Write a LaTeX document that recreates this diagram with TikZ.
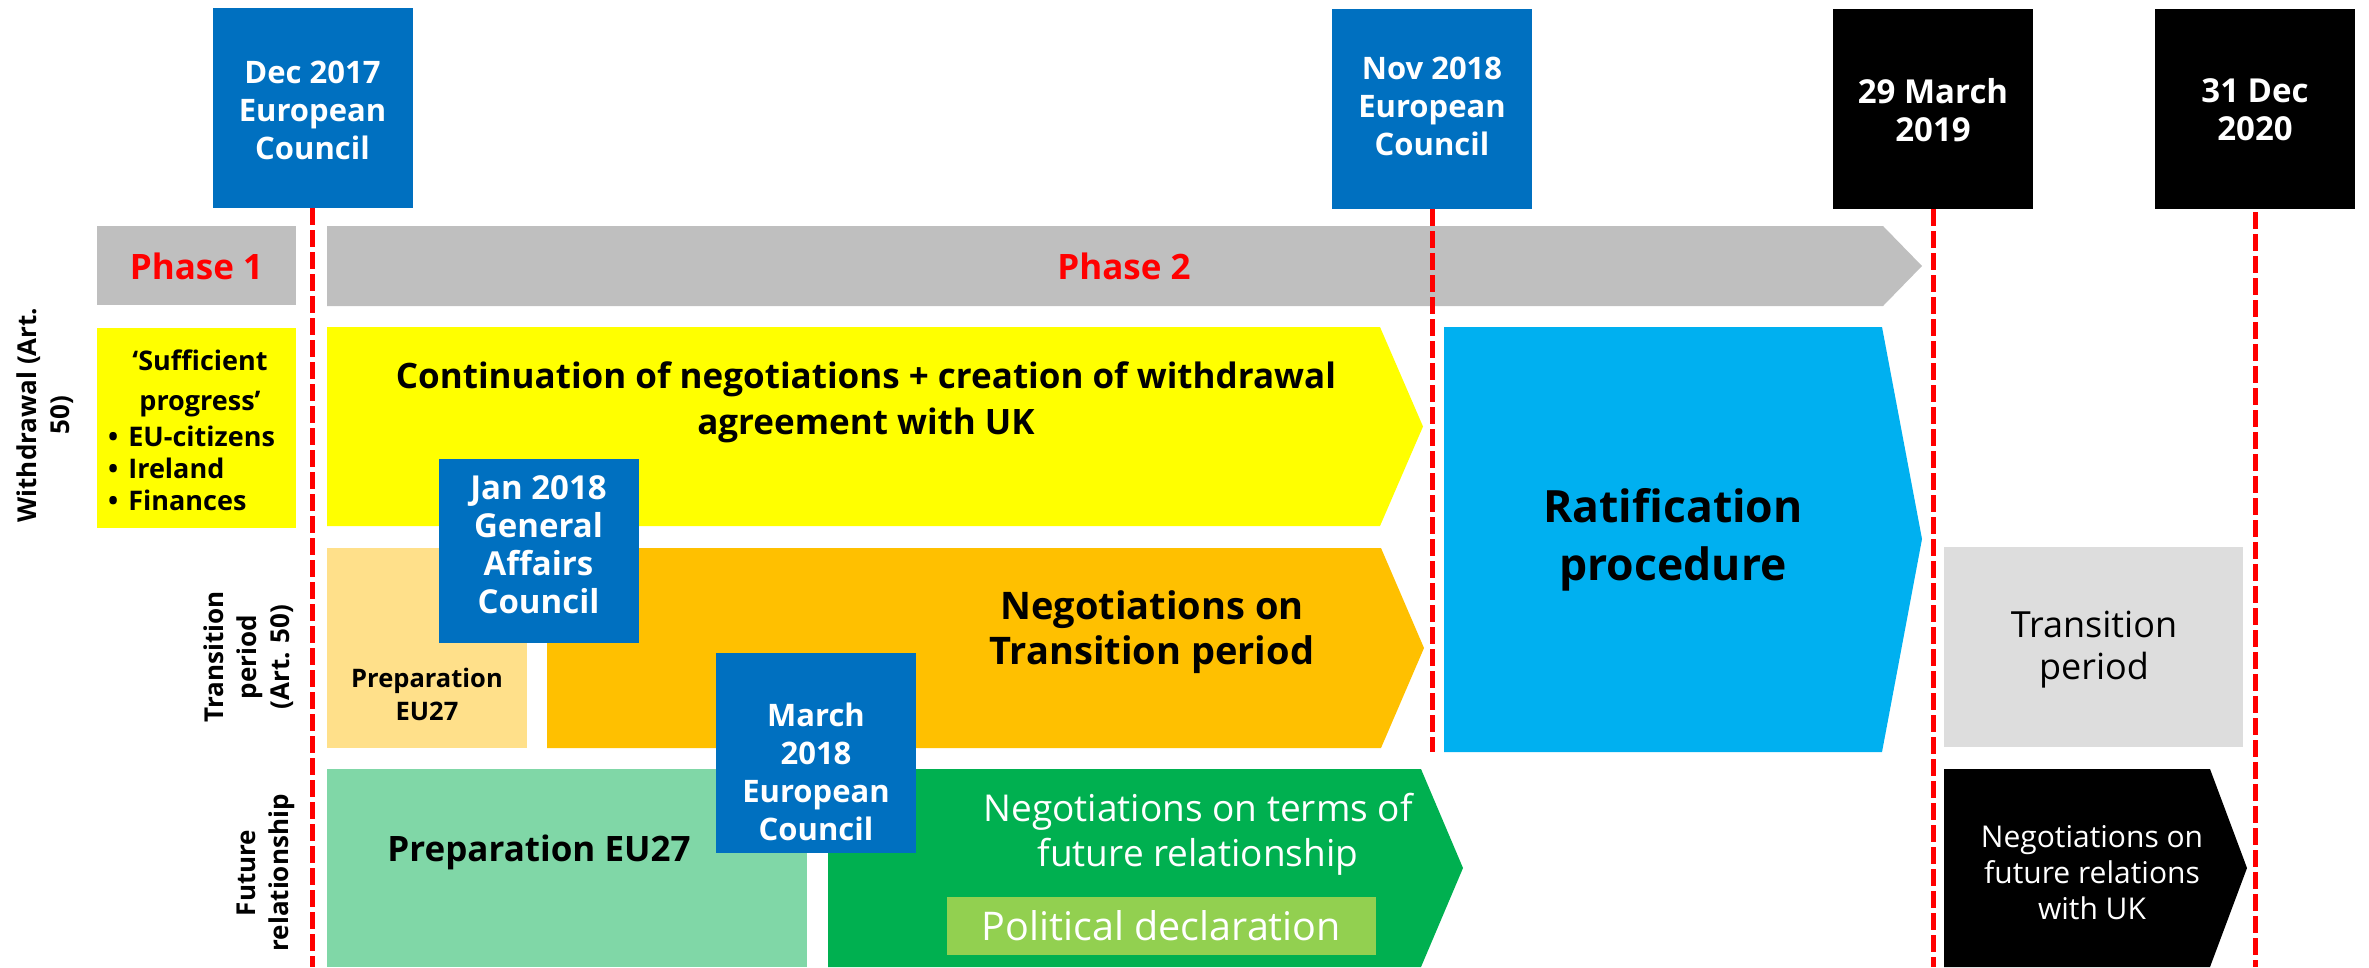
\documentclass[tikz,border=0pt]{standalone}
\usepackage{fontspec}
\setmainfont{Open Sans}

\definecolor{euBlue}{HTML}{0070C0}
\definecolor{phaseGrey}{HTML}{BFBFBF}
\definecolor{lineRed}{HTML}{FF0000}
\definecolor{wdYellow}{HTML}{FFFF00}
\definecolor{paleOrange}{HTML}{FFE08A}
\definecolor{trOrange}{HTML}{FFC000}
\definecolor{paleGreen}{HTML}{80D7A7}
\definecolor{frGreen}{HTML}{00B050}
\definecolor{declGreen}{HTML}{92D050}
\definecolor{ratCyan}{HTML}{00B0F0}
\definecolor{trGrey}{HTML}{DDDDDD}

\tikzset{
    datebox/.style={minimum width=200pt, minimum height=200pt, inner sep=0pt},
    datetext/.style={text=white, align=center, inner sep=0pt, font=\bfseries\fontsize{31}{38}\selectfont},
    cutline/.style={lineRed, line width=5pt, dash pattern=on 17pt off 5pt},
    rowlabel/.style={rotate=90, align=center, font=\bfseries\fontsize{26}{33}\selectfont},
    label/.style={align=center, inner sep=0pt}
}

\begin{document}
\begin{tikzpicture}[x=1pt,y=-1pt]
    \useasboundingbox (0,0) rectangle (2369,967);
    \coordinate (bottom) at (0,967);

    % phases
    \fill[phaseGrey] (97,226) rectangle (296,305);
    \fill[phaseGrey] (327,226) -- (1883,226) -- (1922,266) -- (1883,306) -- (327,306) -- cycle;
    \node[label, text=lineRed, font=\bfseries\fontsize{35}{42}\selectfont] (phase1) at (196.5,266) {Phase 1};
    \node[label, text=lineRed, font=\bfseries\fontsize{35}{42}\selectfont] (phase2) at (1124,266) {Phase 2};

    % withdrawal row
    \fill[wdYellow] (97,328) rectangle (296,528);
    \fill[wdYellow] (327,327) -- (1380,327) -- (1423,426.5) -- (1380,526) -- (327,526) -- cycle;
    \node[label, font=\bfseries\fontsize{27}{40}\selectfont] (progress) at (200,383) {‘Sufficient\\progress’};
    \node[label, anchor=west, align=left, font=\bfseries\fontsize{27}{32}\selectfont] (issues) at (108,468)
        {\textbullet\hspace{10pt}EU-citizens\\\textbullet\hspace{10pt}Ireland\\\textbullet\hspace{10pt}Finances};
    \node[label, font=\bfseries\fontsize{35}{46}\selectfont] (withdrawal) at (866,402)
        {Continuation of negotiations + creation of withdrawal\\agreement with UK};

    % transition row
    \fill[paleOrange] (327,548) rectangle (527,748);
    \fill[trOrange] (547,548) -- (1381,548) -- (1424,648) -- (1381,748) -- (547,748) -- cycle;
    \node[label, font=\bfseries\fontsize{25.5}{33}\selectfont] (prepsmall) at (427,694) {Preparation\\EU27};
    \node[label, font=\bfseries\fontsize{38}{45}\selectfont] (transneg) at (1152,632) {Negotiations on\\Transition period};

    % future relationship row
    \fill[paleGreen] (327,769) rectangle (807,967);
    \fill[frGreen] (828,769) -- (1421,769) -- (1463,868) -- (1421,967) -- (828,967) -- cycle;
    \fill[declGreen] (947,897) rectangle (1376,955);
    \node[label, font=\bfseries\fontsize{35}{42}\selectfont] (prepbig) at (539,852) {Preparation EU27};
    \node[label, text=white, font=\fontsize{37}{45}\selectfont] (futneg) at (1198,834) {Negotiations on terms of\\future relationship};
    \node[label, text=white, font=\fontsize{39.5}{45}\selectfont] (decl) at (1161.5,926) {Political declaration};

    % after withdrawal
    \fill[ratCyan] (1444,327) -- (1882,327) -- (1922,539) -- (1882,752) -- (1444,752) -- cycle;
    \node[label, font=\bfseries\fontsize{44.5}{58}\selectfont] (ratif) at (1673,540) {Ratification\\procedure};
    \fill[trGrey] (1944,547) rectangle (2243,747);
    \node[label, font=\fontsize{36}{42}\selectfont] (transper) at (2094,650) {Transition\\period};
    \fill[black] (1944,769) -- (2210,769) -- (2247,868) -- (2210,967) -- (1944,967) -- cycle;
    \node[label, text=white, font=\fontsize{30}{36}\selectfont] (futuk) at (2092,873) {Negotiations on\\future relations\\with UK};

    % councils inside the period
    \node[datebox, fill=euBlue, minimum height=184pt] (jan18) at (538.5,551) {};
    \node[datetext, font=\bfseries\fontsize{33}{38}\selectfont] (jan18txt) at (538.5,545) {Jan 2018\\General\\Affairs\\Council};
    \node[datebox, fill=euBlue] (mar18) at (816,753) {};
    \node[datetext] (mar18txt) at (816,772) {March\\2018\\European\\Council};

    % dates on top
    \node[datebox, fill=euBlue] (dec17) at (312.5,108) {};
    \node[datetext] (dec17txt) at (312.5,110) {Dec 2017\\European\\Council};
    \node[datebox, fill=euBlue] (nov18) at (1432,109) {};
    \node[datetext] (nov18txt) at (1432,106) {Nov 2018\\European\\Council};
    \node[datebox, fill=black] (mar19) at (1933,109) {};
    \node[datetext, font=\bfseries\fontsize{33}{38}\selectfont] (mar19txt) at (1933,110) {29 March\\2019};
    \node[datebox, fill=black] (dec20) at (2255,109) {};
    \node[datetext, font=\bfseries\fontsize{33}{38}\selectfont] (dec20txt) at (2255,110) {31 Dec\\2020};

    \draw[cutline] (dec17.south) -- (dec17.south |- bottom);
    \draw[cutline] (nov18.south) -- (nov18.south |- 0,752);
    \draw[cutline] (mar19.south) -- (mar19.south |- bottom);
    \draw[cutline] ([yshift=-3pt]dec20.south) -- (dec20.south |- bottom);

    % row labels
    \node[rowlabel] (wdlabel) at (45,415) {Withdrawal (Art.\\50)};
    \node[rowlabel] (trlabel) at (249,657) {Transition\\period\\(Art. 50)};
    \node[rowlabel] (frlabel) at (266,873) {Future\\relationship};
\end{tikzpicture}
\end{document}
